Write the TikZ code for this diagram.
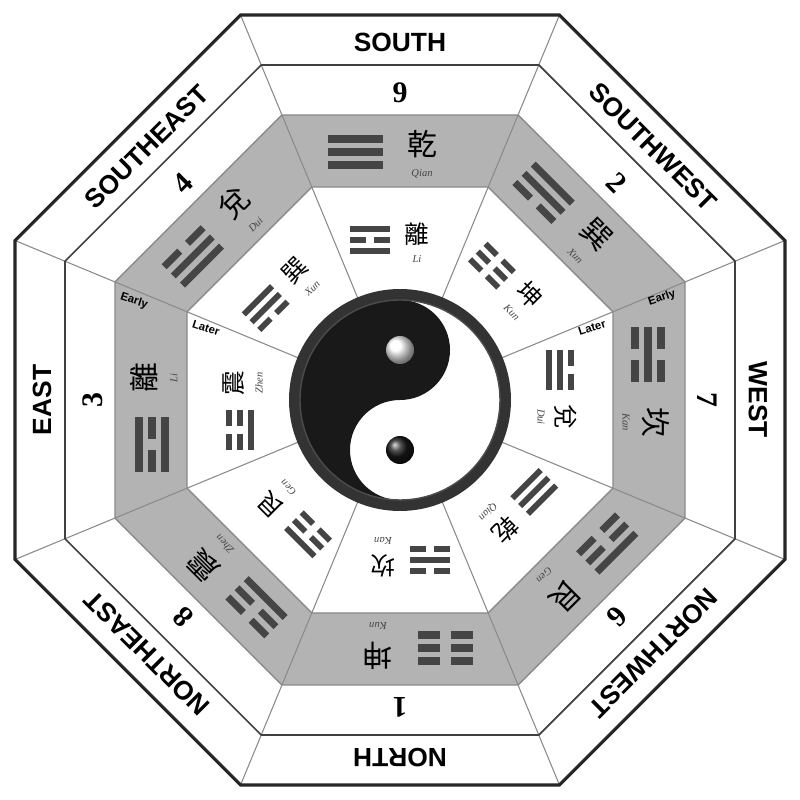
\documentclass[tikz,border=0pt]{standalone}
\usepackage{fontspec}
\setmainfont{Liberation Serif}
\setsansfont{Liberation Sans}
\newfontfamily\cjk{Noto Sans CJK TC}
\definecolor{ringgray}{HTML}{B3B3B3}
\definecolor{bargray}{HTML}{454545}
\definecolor{edgegray}{HTML}{8A8A8A}
\tikzset{
  dirlabel/.style={font=\sffamily\bfseries\fontsize{15}{15}\selectfont},
  numlabel/.style={font=\bfseries\fontsize{17}{17}\selectfont},
  hanzi/.style={font=\cjk\fontsize{17}{17}\selectfont},
  pinyin/.style={font=\itshape\fontsize{6}{6}\selectfont, text=bargray},
  hanzismall/.style={font=\cjk\fontsize{14}{14}\selectfont},
  tag/.style={font=\sffamily\bfseries\fontsize{6.5}{6.5}\selectfont}
}
% trigram: bits from inner to outer line, bar length, spacing, thickness
\newcommand{\gua}[6]{%
  \foreach \b [count=\i] in {#1,#2,#3} {
    \pgfmathsetmacro{\yy}{(\i-2)*#5}
    \ifnum\b=1
      \draw[bargray, line width=#6] (-#4/2,\yy) -- (#4/2,\yy);
    \else
      \draw[bargray, line width=#6] (-#4/2,\yy) -- (-#4/10,\yy);
      \draw[bargray, line width=#6] (#4/10,\yy) -- (#4/2,\yy);
    \fi
  }}
% octagon path with apothem
\newcommand{\octa}[1]{(22.5:#1/0.92388) -- (67.5:#1/0.92388) -- (112.5:#1/0.92388) -- (157.5:#1/0.92388) -- (202.5:#1/0.92388) -- (247.5:#1/0.92388) -- (292.5:#1/0.92388) -- (337.5:#1/0.92388) -- cycle}
\begin{document}
\begin{tikzpicture}[x=0.02cm, y=0.02cm]
\useasboundingbox (-400,-400) rectangle (400,400);
% rings
\fill[white] \octa{385};
\fill[ringgray, even odd rule] \octa{285} \octa{213};
\foreach \a in {22.5,67.5,...,337.5}
  \draw[edgegray, line width=0.6pt] (\a:110) -- (\a:416.7);
\draw[edgegray, line width=0.8pt] \octa{213};
\draw[edgegray, line width=0.8pt] \octa{285};
\draw[black!75, line width=1pt] \octa{335};
\draw[black!85, line width=1.8pt] \octa{385};
% sectors
\foreach \r/\dir/\num/\ea/\eb/\ec/\ehz/\epy/\la/\lb/\lc/\lhz/\lpy in {
  0/SOUTH/9/1/1/1/乾/Qian/1/0/1/離/Li,
  -45/SOUTHWEST/2/0/1/1/巽/Xun/0/0/0/坤/Kun,
  -90/WEST/7/0/1/0/坎/Kan/1/1/0/兌/Dui,
  -135/NORTHWEST/6/0/0/1/艮/Gen/1/1/1/乾/Qian,
  180/NORTH/1/0/0/0/坤/Kun/0/1/0/坎/Kan,
  135/NORTHEAST/8/1/0/0/震/Zhen/0/0/1/艮/Gen,
  90/EAST/3/1/0/1/離/Li/1/0/0/震/Zhen,
  45/SOUTHEAST/4/1/1/0/兌/Dui/0/1/1/巽/Xun} {
  \begin{scope}[rotate=\r]
    \node[dirlabel, rotate=\r] (dir-\num) at (0,358) {\dir};
    \node[numlabel, rotate=\r] (num-\num) at (0,307) {\num};
    \begin{scope}[shift={(-45,248)}]
      \gua{\ea}{\eb}{\ec}{55}{13}{4pt}
    \end{scope}
    \node[hanzi, rotate=\r] (early-\num) at (22,256) {\ehz};
    \node[pinyin, rotate=\r] (earlypy-\num) at (22,226) {\epy};
    \begin{scope}[shift={(-30,160)}]
      \gua{\la}{\lb}{\lc}{40}{11}{3.3pt}
    \end{scope}
    \node[hanzismall, rotate=\r] (later-\num) at (17,166) {\lhz};
    \node[pinyin, rotate=\r] (laterpy-\num) at (17,141) {\lpy};
  \end{scope}
}
% tags
\node[tag, rotate=-18] (early-e) at (-266,99) {Early};
\node[tag, rotate=-18] (later-e) at (-194,72) {Later};
\node[tag, rotate=18] (later-w) at (192,72) {Later};
\node[tag, rotate=18] (early-w) at (262,102) {Early};
% yin yang
\fill[black!80] (0,0) circle (111);
\fill[white] (0,0) circle (100);
\fill[black!90] (0,100) arc[start angle=90, end angle=270, radius=100]
  arc[start angle=270, end angle=90, radius=50]
  arc[start angle=270, end angle=450, radius=50] -- cycle;
\draw[black!70, line width=0.8pt] (0,0) circle (100);
\shade[ball color=white] (0,50) circle (14);
\shade[ball color=black!90] (0,-50) circle (14);
\end{tikzpicture}
\end{document}
